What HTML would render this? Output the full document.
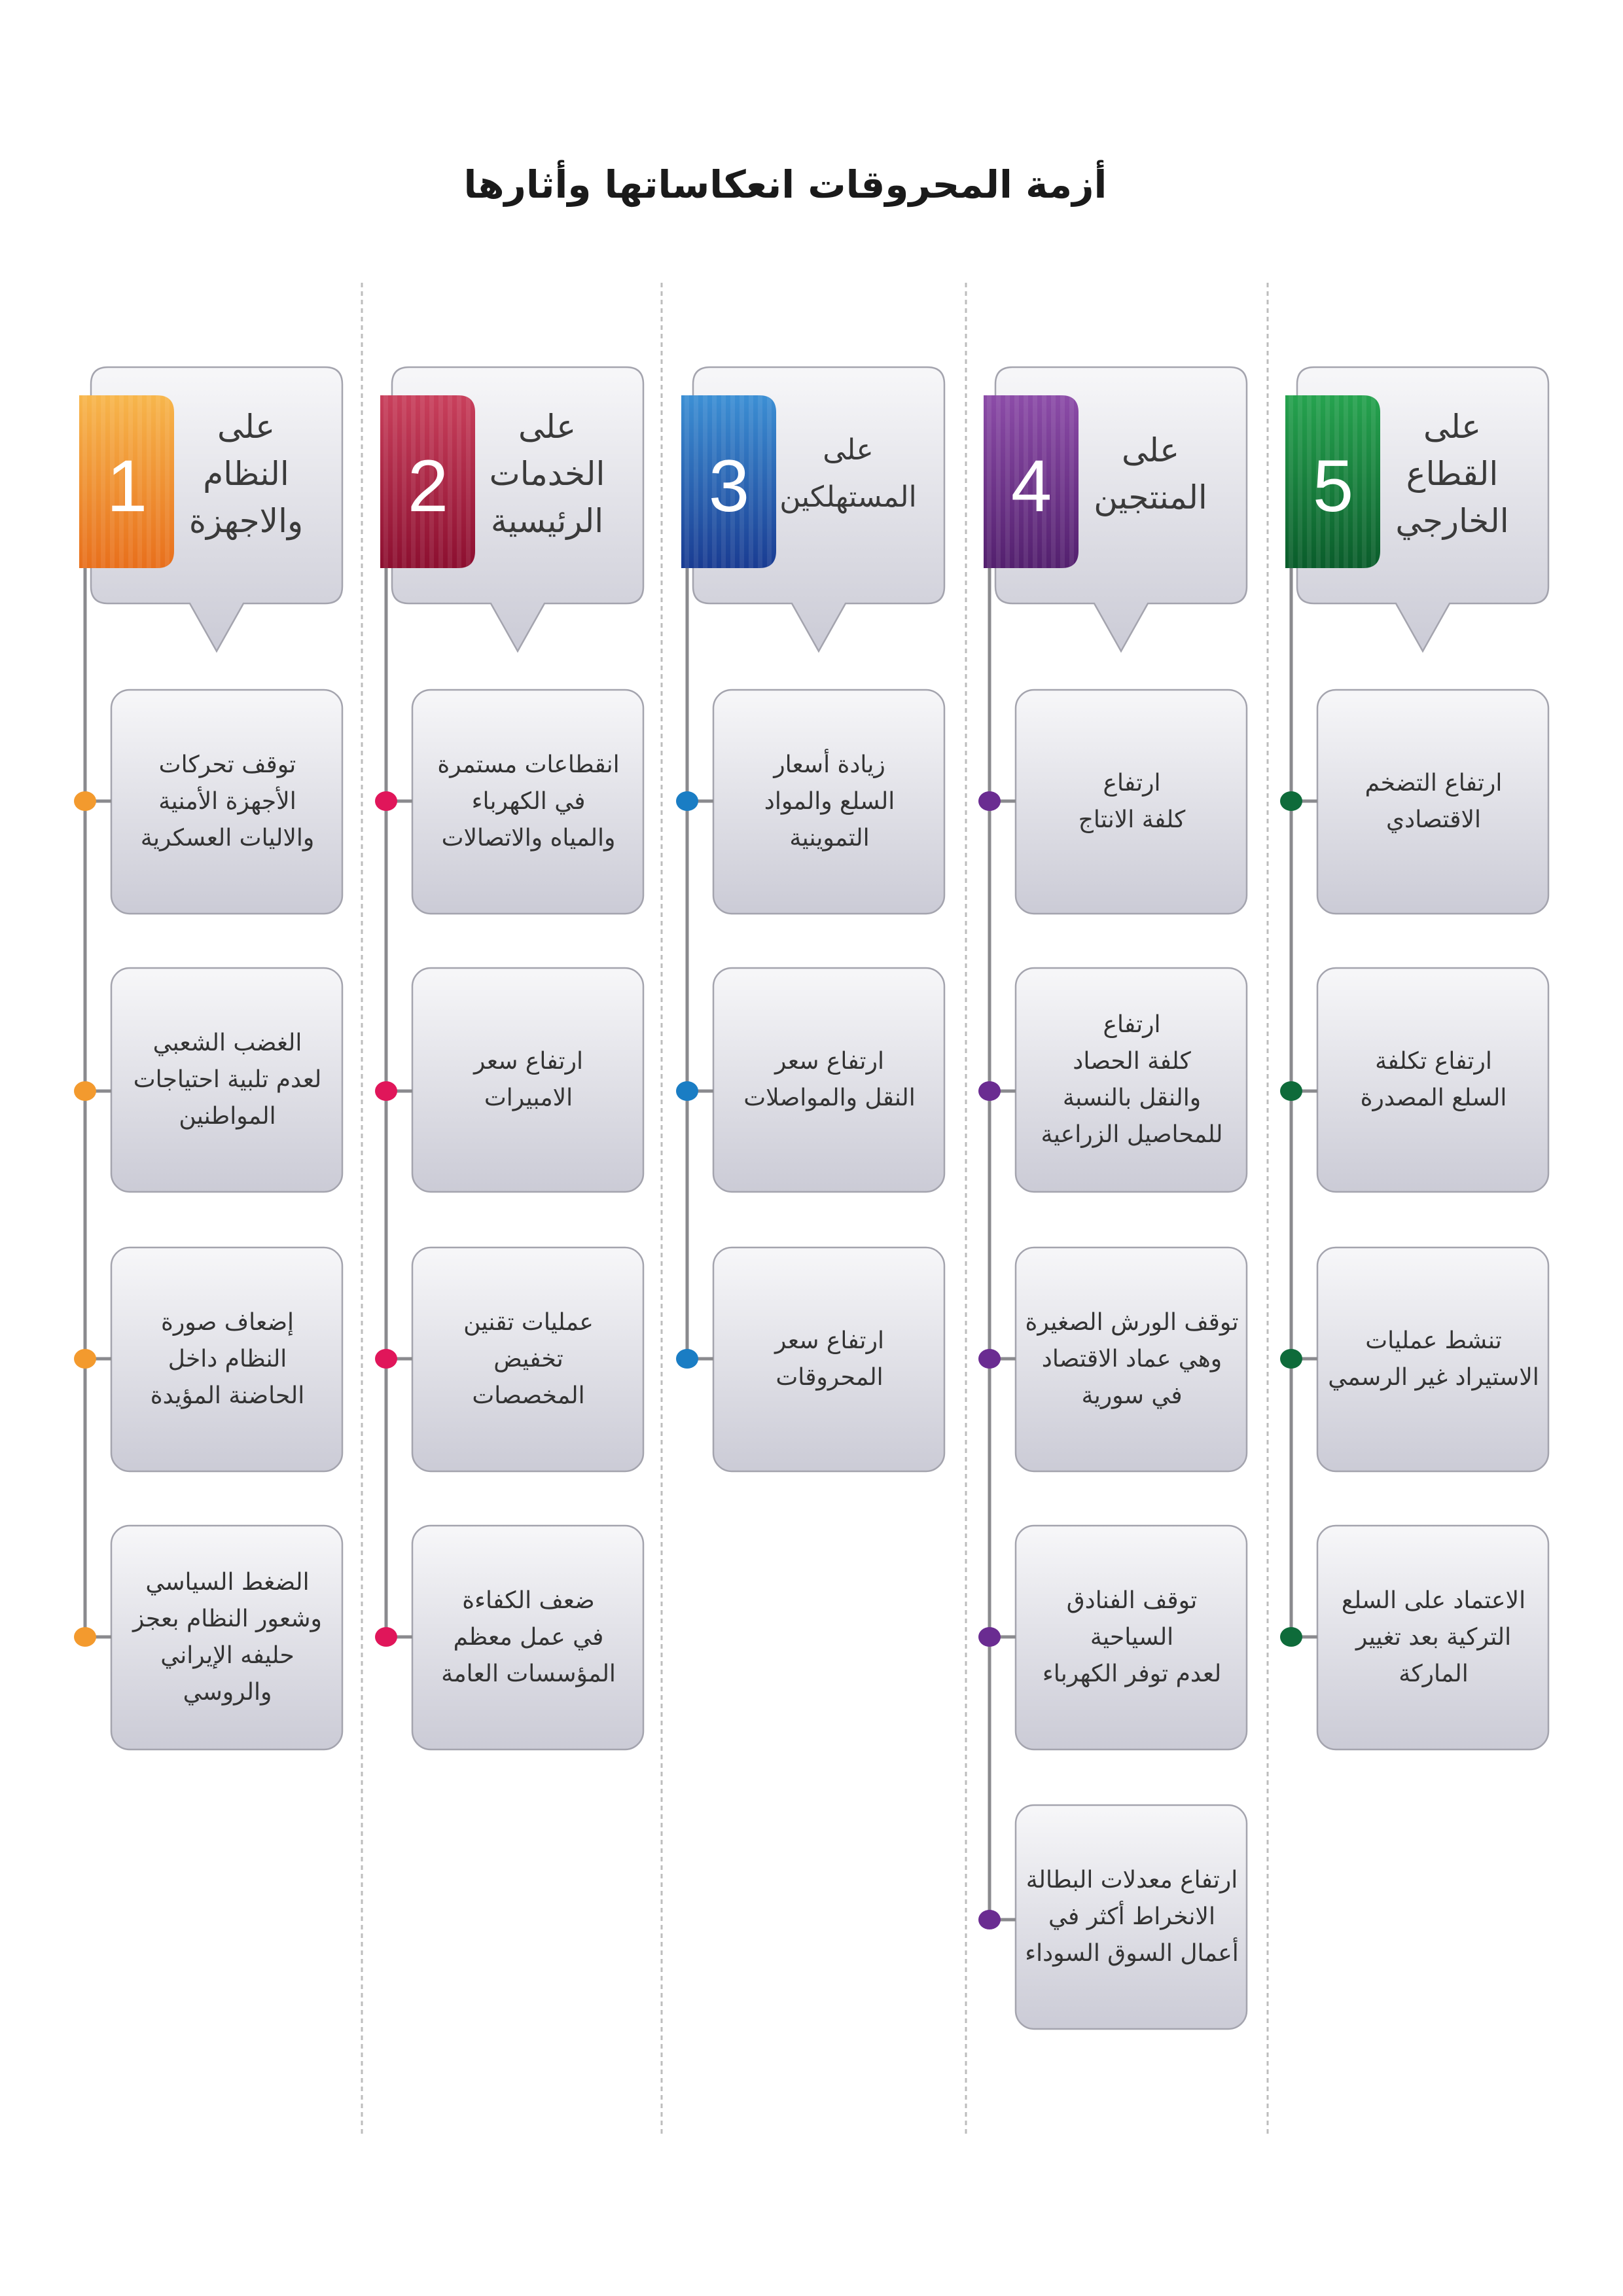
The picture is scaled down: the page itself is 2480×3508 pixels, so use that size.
<!DOCTYPE html>
<html><head><meta charset="utf-8">
<style>
html,body{margin:0;padding:0;background:#fff;}
body{width:2480px;height:3508px;position:relative;overflow:hidden;font-family:"DejaVu Sans","Liberation Sans",sans-serif;}
.t{position:absolute;direction:rtl;text-align:center;color:#333;display:flex;align-items:center;justify-content:center;}
.it{width:355px;height:342px;font-size:36px;line-height:56px;}
.hd{width:270px;height:300px;font-size:50px;line-height:72px;color:#3a3a3a;}
.num{position:absolute;width:146px;text-align:center;color:#fff;font-family:"Liberation Sans",sans-serif;font-size:112px;line-height:120px;}
h1{position:absolute;left:0;width:2400px;top:248px;margin:0;text-align:center;direction:rtl;font-size:58px;font-weight:bold;color:#1a1a1a;}
</style></head><body>
<svg width="2480" height="3508" style="position:absolute;left:0;top:0">
<defs>
<linearGradient id="bx" x1="0" y1="0" x2="0" y2="1"><stop offset="0" stop-color="#f7f7f9"/><stop offset="0.45" stop-color="#e3e3e9"/><stop offset="1" stop-color="#cbcbd6"/></linearGradient>
<linearGradient id="o" x1="0" y1="0" x2="0" y2="1"><stop offset="0" stop-color="#f7b64c"/><stop offset="1" stop-color="#e86f1c"/></linearGradient>
<linearGradient id="r" x1="0" y1="0" x2="0" y2="1"><stop offset="0" stop-color="#c9405c"/><stop offset="1" stop-color="#8c0f30"/></linearGradient>
<linearGradient id="b" x1="0" y1="0" x2="0" y2="1"><stop offset="0" stop-color="#3c8fd4"/><stop offset="1" stop-color="#1a3c92"/></linearGradient>
<linearGradient id="p" x1="0" y1="0" x2="0" y2="1"><stop offset="0" stop-color="#8c4ca8"/><stop offset="1" stop-color="#53206e"/></linearGradient>
<linearGradient id="g" x1="0" y1="0" x2="0" y2="1"><stop offset="0" stop-color="#26a34f"/><stop offset="1" stop-color="#0a5c2b"/></linearGradient>
<pattern id="st" width="14" height="10" patternUnits="userSpaceOnUse"><rect width="7" height="10" fill="#fff" opacity="0.08"/></pattern>
<g id="bub"><path d="M165,561 H497 Q523,561 523,587 V896 Q523,922 497,922 H372 L331,995 L290,922 H165 Q139,922 139,896 V587 Q139,561 165,561 Z" fill="url(#bx)" stroke="#a4a4ae" stroke-width="2.5"/></g>
<g id="box"><rect x="170" y="0" width="353" height="342" rx="28" fill="url(#bx)" stroke="#a4a4ae" stroke-width="2.5"/></g>
</defs>
<g stroke="#bdbdbd" stroke-width="3" stroke-dasharray="7,6">
<line x1="553" y1="432" x2="553" y2="3262"/><line x1="1011" y1="432" x2="1011" y2="3262"/><line x1="1476" y1="432" x2="1476" y2="3262"/><line x1="1937" y1="432" x2="1937" y2="3262"/>
</g>
<g>
<use href="#bub"/>
<line x1="130" y1="868" x2="130" y2="2501" stroke="#8a8a8e" stroke-width="5"/>
<use href="#box" y="1054"/><use href="#box" y="1479"/><use href="#box" y="1906"/><use href="#box" y="2331"/>
<g stroke="#8a8a8e" stroke-width="5"><line x1="130" y1="1224" x2="170" y2="1224"/><line x1="130" y1="1667" x2="170" y2="1667"/><line x1="130" y1="2076" x2="170" y2="2076"/><line x1="130" y1="2501" x2="170" y2="2501"/></g>
<g fill="#f39a2e"><ellipse cx="130" cy="1224" rx="17" ry="15"/><ellipse cx="130" cy="1667" rx="17" ry="15"/><ellipse cx="130" cy="2076" rx="17" ry="15"/><ellipse cx="130" cy="2501" rx="17" ry="15"/></g>
<path d="M121,604 H240 Q266,604 266,630 V842 Q266,868 240,868 H121 Z" fill="url(#o)"/><path d="M121,604 H240 Q266,604 266,630 V842 Q266,868 240,868 H121 Z" fill="url(#st)"/>
</g>
<g transform="translate(460,0)">
<use href="#bub"/>
<line x1="130" y1="868" x2="130" y2="2501" stroke="#8a8a8e" stroke-width="5"/>
<use href="#box" y="1054"/><use href="#box" y="1479"/><use href="#box" y="1906"/><use href="#box" y="2331"/>
<g stroke="#8a8a8e" stroke-width="5"><line x1="130" y1="1224" x2="170" y2="1224"/><line x1="130" y1="1667" x2="170" y2="1667"/><line x1="130" y1="2076" x2="170" y2="2076"/><line x1="130" y1="2501" x2="170" y2="2501"/></g>
<g fill="#e0165a"><ellipse cx="130" cy="1224" rx="17" ry="15"/><ellipse cx="130" cy="1667" rx="17" ry="15"/><ellipse cx="130" cy="2076" rx="17" ry="15"/><ellipse cx="130" cy="2501" rx="17" ry="15"/></g>
<path d="M121,604 H240 Q266,604 266,630 V842 Q266,868 240,868 H121 Z" fill="url(#r)"/><path d="M121,604 H240 Q266,604 266,630 V842 Q266,868 240,868 H121 Z" fill="url(#st)"/>
</g>
<g transform="translate(920,0)">
<use href="#bub"/>
<line x1="130" y1="868" x2="130" y2="2076" stroke="#8a8a8e" stroke-width="5"/>
<use href="#box" y="1054"/><use href="#box" y="1479"/><use href="#box" y="1906"/>
<g stroke="#8a8a8e" stroke-width="5"><line x1="130" y1="1224" x2="170" y2="1224"/><line x1="130" y1="1667" x2="170" y2="1667"/><line x1="130" y1="2076" x2="170" y2="2076"/></g>
<g fill="#1a7dc4"><ellipse cx="130" cy="1224" rx="17" ry="15"/><ellipse cx="130" cy="1667" rx="17" ry="15"/><ellipse cx="130" cy="2076" rx="17" ry="15"/></g>
<path d="M121,604 H240 Q266,604 266,630 V842 Q266,868 240,868 H121 Z" fill="url(#b)"/><path d="M121,604 H240 Q266,604 266,630 V842 Q266,868 240,868 H121 Z" fill="url(#st)"/>
</g>
<g transform="translate(1382,0)">
<use href="#bub"/>
<line x1="130" y1="868" x2="130" y2="2933" stroke="#8a8a8e" stroke-width="5"/>
<use href="#box" y="1054"/><use href="#box" y="1479"/><use href="#box" y="1906"/><use href="#box" y="2331"/><use href="#box" y="2758"/>
<g stroke="#8a8a8e" stroke-width="5"><line x1="130" y1="1224" x2="170" y2="1224"/><line x1="130" y1="1667" x2="170" y2="1667"/><line x1="130" y1="2076" x2="170" y2="2076"/><line x1="130" y1="2501" x2="170" y2="2501"/><line x1="130" y1="2933" x2="170" y2="2933"/></g>
<g fill="#6a2c91"><ellipse cx="130" cy="1224" rx="17" ry="15"/><ellipse cx="130" cy="1667" rx="17" ry="15"/><ellipse cx="130" cy="2076" rx="17" ry="15"/><ellipse cx="130" cy="2501" rx="17" ry="15"/><ellipse cx="130" cy="2933" rx="17" ry="15"/></g>
<path d="M121,604 H240 Q266,604 266,630 V842 Q266,868 240,868 H121 Z" fill="url(#p)"/><path d="M121,604 H240 Q266,604 266,630 V842 Q266,868 240,868 H121 Z" fill="url(#st)"/>
</g>
<g transform="translate(1843,0)">
<use href="#bub"/>
<line x1="130" y1="868" x2="130" y2="2501" stroke="#8a8a8e" stroke-width="5"/>
<use href="#box" y="1054"/><use href="#box" y="1479"/><use href="#box" y="1906"/><use href="#box" y="2331"/>
<g stroke="#8a8a8e" stroke-width="5"><line x1="130" y1="1224" x2="170" y2="1224"/><line x1="130" y1="1667" x2="170" y2="1667"/><line x1="130" y1="2076" x2="170" y2="2076"/><line x1="130" y1="2501" x2="170" y2="2501"/></g>
<g fill="#0e6b3a"><ellipse cx="130" cy="1224" rx="17" ry="15"/><ellipse cx="130" cy="1667" rx="17" ry="15"/><ellipse cx="130" cy="2076" rx="17" ry="15"/><ellipse cx="130" cy="2501" rx="17" ry="15"/></g>
<path d="M121,604 H240 Q266,604 266,630 V842 Q266,868 240,868 H121 Z" fill="url(#g)"/><path d="M121,604 H240 Q266,604 266,630 V842 Q266,868 240,868 H121 Z" fill="url(#st)"/>
</g>
</svg>

<h1>أزمة المحروقات انعكاساتها وأثارها</h1>

<div class="num" style="left:121px;top:683px">1</div>
<div class="num" style="left:581px;top:683px">2</div>
<div class="num" style="left:1041px;top:683px">3</div>
<div class="num" style="left:1503px;top:683px">4</div>
<div class="num" style="left:1964px;top:683px">5</div>

<div class="t hd" style="left:241px;top:574px">على<br>النظام<br>والاجهزة</div>
<div class="t hd" style="left:701px;top:574px">على<br>الخدمات<br>الرئيسية</div>
<div class="t hd" style="left:1161px;top:574px;font-size:44px">على<br>المستهلكين</div>
<div class="t hd" style="left:1623px;top:574px">على<br>المنتجين</div>
<div class="t hd" style="left:2084px;top:574px">على<br>القطاع<br>الخارجي</div>

<div class="t it" style="left:170px;top:1054px">توقف تحركات<br>الأجهزة الأمنية<br>والاليات العسكرية</div>
<div class="t it" style="left:170px;top:1479px">الغضب الشعبي<br>لعدم تلبية احتياجات<br>المواطنين</div>
<div class="t it" style="left:170px;top:1906px">إضعاف صورة<br>النظام داخل<br>الحاضنة المؤيدة</div>
<div class="t it" style="left:170px;top:2331px">الضغط السياسي<br>وشعور النظام بعجز<br>حليفه الإيراني<br>والروسي</div>
<div class="t it" style="left:630px;top:1054px">انقطاعات مستمرة<br>في الكهرباء<br>والمياه والاتصالات</div>
<div class="t it" style="left:630px;top:1479px">ارتفاع سعر<br>الامبيرات</div>
<div class="t it" style="left:630px;top:1906px">عمليات تقنين<br>تخفيض<br>المخصصات</div>
<div class="t it" style="left:630px;top:2331px">ضعف الكفاءة<br>في عمل معظم<br>المؤسسات العامة</div>
<div class="t it" style="left:1090px;top:1054px">زيادة أسعار<br>السلع والمواد<br>التموينية</div>
<div class="t it" style="left:1090px;top:1479px">ارتفاع سعر<br>النقل والمواصلات</div>
<div class="t it" style="left:1090px;top:1906px">ارتفاع سعر<br>المحروقات</div>
<div class="t it" style="left:1552px;top:1054px">ارتفاع<br>كلفة الانتاج</div>
<div class="t it" style="left:1552px;top:1479px">ارتفاع<br>كلفة الحصاد<br>والنقل بالنسبة<br>للمحاصيل الزراعية</div>
<div class="t it" style="left:1552px;top:1906px">توقف الورش الصغيرة<br>وهي عماد الاقتصاد<br>في سورية</div>
<div class="t it" style="left:1552px;top:2331px">توقف الفنادق<br>السياحية<br>لعدم توفر الكهرباء</div>
<div class="t it" style="left:1552px;top:2758px">ارتفاع معدلات البطالة<br>الانخراط أكثر في<br>أعمال السوق السوداء</div>
<div class="t it" style="left:2013px;top:1054px">ارتفاع التضخم<br>الاقتصادي</div>
<div class="t it" style="left:2013px;top:1479px">ارتفاع تكلفة<br>السلع المصدرة</div>
<div class="t it" style="left:2013px;top:1906px">تنشط عمليات<br>الاستيراد غير الرسمي</div>
<div class="t it" style="left:2013px;top:2331px">الاعتماد على السلع<br>التركية بعد تغيير<br>الماركة</div>
</body></html>
